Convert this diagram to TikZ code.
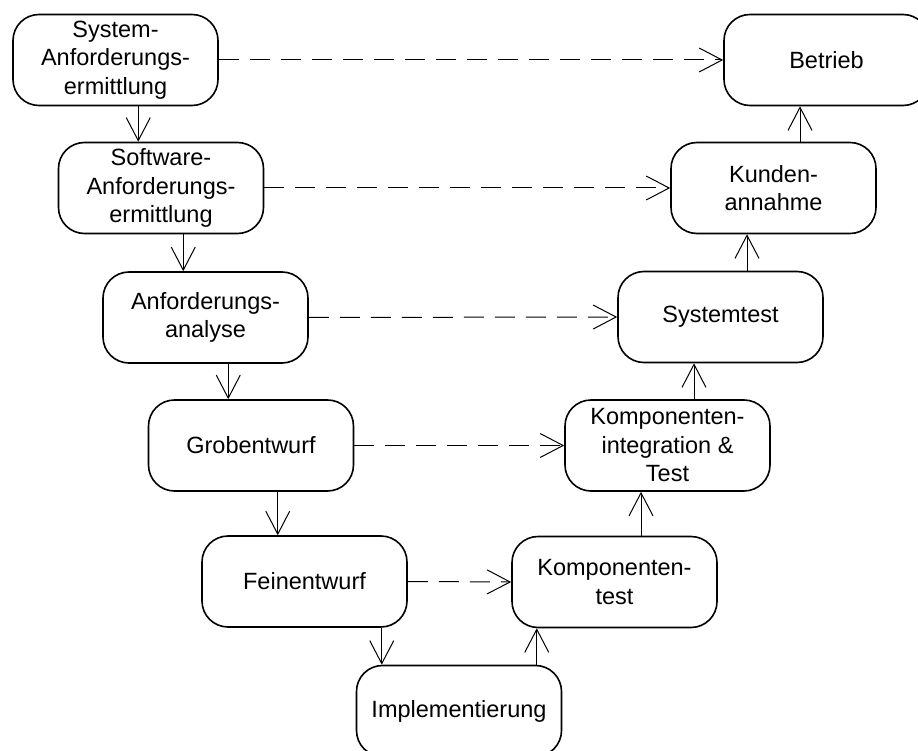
\documentclass[tikz,border=0pt]{standalone}
\usepackage{fontspec}
\setmainfont{Liberation Sans}
\usetikzlibrary{arrows.meta,calc}

\tikzset{
  phase/.style={draw, rounded corners=26pt, line width=1.6pt,
    minimum width=205pt, minimum height=91pt, inner sep=0pt,
    align=center, font=\fontsize{23.5pt}{28.5pt}\selectfont},
  flow/.style={line width=1pt, -{Straight Barb[length=23pt,width=24pt]}},
  verify/.style={flow, dash pattern=on 20pt off 11pt}
}

\begin{document}
\begin{tikzpicture}[x=1pt, y=-1pt]
  \useasboundingbox (0,0) rectangle (918,751);

  % left branch: specification and design
  \node[phase] (sa)  at (115.5,60)   {System-\\Anforderungs-\\ermittlung};
  \node[phase] (swa) at (161,188)    {Software-\\Anforderungs-\\ermittlung};
  \node[phase] (aa)  at (205.5,317.5){Anforderungs-\\analyse};
  \node[phase] (ge)  at (251,445.5)  {Grobentwurf};
  \node[phase] (fe)  at (304.5,581.5){Feinentwurf};
  % bottom
  \node[phase] (im)  at (459,711)    {Implementierung};
  % right branch: integration and testing
  \node[phase] (kt)  at (614.5,582)  {Komponenten-\\test};
  \node[phase] (ki)  at (667.5,445.5){Komponenten-\\integration \&\\Test};
  \node[phase] (st)  at (720.5,317)  {Systemtest};
  \node[phase] (ka)  at (773.5,188)  {Kunden-\\annahme};
  \node[phase] (be)  at (826.5,60)   {Betrieb};

  % vertical links sit in the middle of the overlap of two boxes
  \coordinate (m1) at ($(sa.east)!.5!(swa.west)$);
  \coordinate (m2) at ($(swa.east)!.5!(aa.west)$);
  \coordinate (m3) at ($(aa.east)!.5!(ge.west)$);
  \coordinate (m4) at ($(ge.east)!.5!(fe.west)$);
  \coordinate (m5) at ($(fe.east)!.5!(im.west)$);
  \coordinate (m6) at ($(im.east)!.5!(kt.west)$);
  \coordinate (m7) at ($(kt.east)!.5!(ki.west)$);
  \coordinate (m8) at ($(ki.east)!.5!(st.west)$);
  \coordinate (m9) at ($(st.east)!.5!(ka.west)$);
  \coordinate (m10) at ($(ka.east)!.5!(be.west)$);

  \draw[flow] (sa.south -| m1)  -- (swa.north -| m1);
  \draw[flow] (swa.south -| m2) -- (aa.north -| m2);
  \draw[flow] (aa.south -| m3)  -- (ge.north -| m3);
  \draw[flow] (ge.south -| m4)  -- (fe.north -| m4);
  \draw[flow] (fe.south -| m5)  -- (im.north -| m5);
  \draw[flow] (im.north -| m6)  -- (kt.south -| m6);
  \draw[flow] (kt.north -| m7)  -- (ki.south -| m7);
  \draw[flow] (ki.north -| m8)  -- (st.south -| m8);
  \draw[flow] (st.north -| m9)  -- (ka.south -| m9);
  \draw[flow] (ka.north -| m10) -- (be.south -| m10);

  % verification links across the V
  \draw[verify] (sa.east)  -- (be.west);
  \draw[verify] (swa.east) -- (ka.west);
  \draw[verify] (aa.east)  -- (st.west);
  \draw[verify] (ge.east)  -- (ki.west);
  \draw[verify] (fe.east)  -- (kt.west);
\end{tikzpicture}
\end{document}
